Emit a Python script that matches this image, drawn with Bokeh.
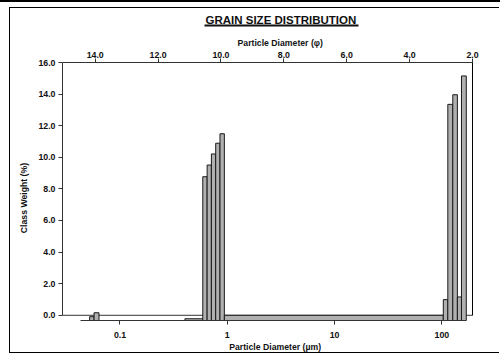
import math
from bokeh.plotting import figure
from bokeh.models import (Range1d, LinearAxis, LinearScale, FixedTicker,
                          PrintfTickFormatter, CustomJSTickFormatter, Span,
                          Title)
from bokeh.embed import file_html
from bokeh.resources import INLINE

# ---------------- data ----------------
bin_left_um = [0.0521, 0.0573, 0.403, 0.591, 0.649, 0.711, 0.780, 0.855,
               0.939, 103.2, 113.7, 126.5, 139.6, 152.4]
bin_right_um = [0.0573, 0.0637, 0.591, 0.649, 0.711, 0.780, 0.855, 0.939,
                103.2, 113.7, 126.5, 139.6, 152.4, 169.0]
class_weight = [-0.09, 0.16, -0.22, 8.77, 9.51, 10.21, 10.89, 11.49,
                0.0, 0.99, 13.35, 13.96, 1.16, 15.15]

y_ticks = [0, 2, 4, 6, 8, 10, 12, 14, 16]
phi_ticks = [14, 12, 10, 8, 6, 4, 2]
um_ticks = [0.1, 1, 10, 100]
um_tick_labels = ["0.1", "1", "10", "100"]

title_text = "GRAIN SIZE DISTRIBUTION"
top_label = "Particle Diameter (\u03c6)"
bottom_label = "Particle Diameter (\u00b5m)"
left_label = "Class Weight (%)"

# ---------------- ranges ----------------
X_START, X_END = 0.02911, 193.1
Y_START, Y_END = -0.33, 16.0
PHI_START, PHI_END = 15.04, 2.0
AXIS_MIN_UM = 0.0428

FONT = "Liberation Sans"
INK = "#111111"
AX = "#333333"

W, H = 490, 346
ML, MR, MT, MB = 50, 28, 54, 34
OX, OY = 10, 8  # page position of canvas
FL, FR = OX + ML, OX + W - MR
FT, FB = OY + MT, OY + H - MB


def xd(px):
    l0, l1 = math.log10(X_START), math.log10(X_END)
    return 10 ** (l0 + (px - FL) / (FR - FL) * (l1 - l0))


p = figure(width=W, height=H, x_axis_type="log",
           x_range=Range1d(X_START, X_END), y_range=Range1d(Y_START, Y_END),
           output_backend="svg", toolbar_location=None, title=None,
           min_border_left=ML, min_border_right=MR, min_border_top=MT,
           min_border_bottom=MB, outline_line_color=None,
           background_fill_color="white", border_fill_color="white")
p.grid.visible = False
p.extra_x_ranges = {"phi": Range1d(PHI_START, PHI_END)}
p.extra_x_scales = {"phi": LinearScale()}

p.styles = {"position": "absolute", "left": "9px", "top": "7px",
            "border-left": "1px solid #000", "border-top": "1px solid #000",
            "border-bottom": "1px solid #000",
            "box-shadow": "0 4px 0 9px #fff, 0 2px 0 9px #000"}


def style_axis(ax, standoff):
    ax.axis_line_color = AX
    ax.axis_line_width = 1
    ax.major_tick_line_color = AX
    ax.major_tick_in = 0
    ax.major_tick_out = 4
    ax.minor_tick_line_color = None
    ax.minor_tick_in = 0
    ax.minor_tick_out = 0
    ax.major_label_standoff = standoff
    ax.major_label_text_font = FONT
    ax.major_label_text_font_size = "8.8px"
    ax.major_label_text_font_style = "bold"
    ax.major_label_text_color = INK


def side_title(text, size, offset, valign, standoff):
    return Title(text=text, align="left", offset=offset,
                 vertical_align=valign, standoff=standoff,
                 text_font=FONT, text_font_size=size,
                 text_font_style="bold", text_color=INK)


# bottom log axis
bx = p.xaxis[0]
style_axis(bx, 7)
bx.ticker = FixedTicker(ticks=um_ticks)
bx.bounds = (AXIS_MIN_UM, bin_right_um[-1])
bx.formatter = CustomJSTickFormatter(
    args=dict(tv=um_ticks, tl=um_tick_labels),
    code="const i = tv.findIndex(t => Math.abs(t - tick) < 1e-9 * Math.max(1, Math.abs(t)));"
         "return i >= 0 ? tl[i] : '';")
p.add_layout(side_title(bottom_label, "8.7px", 226.7 - FL, "top", 2), "below")

# left axis
ly = p.yaxis[0]
style_axis(ly, 3)
ly.ticker = FixedTicker(ticks=y_ticks)
ly.bounds = (0, 16)
ly.formatter = PrintfTickFormatter(format="%.1f")
p.add_layout(side_title(left_label, "8.7px", FB - 232.7, "bottom", 13), "left")

# top phi axis
tx = LinearAxis(x_range_name="phi", ticker=FixedTicker(ticks=phi_ticks),
                formatter=PrintfTickFormatter(format="%.1f"))
style_axis(tx, 1)
p.add_layout(tx, "above")

# top axis title
p.add_layout(side_title(top_label, "8.7px", 235.0 - FL, "bottom", 2), "above")
# spacer
p.add_layout(Title(text=" ", align="center", standoff=0,
                   text_font=FONT, text_font_size="6.5px"), "above")
# title underline (an undecorated axis spanning the title width)
ux = LinearAxis(ticker=FixedTicker(ticks=[]), bounds=(xd(203), xd(357)))
ux.axis_line_color = INK
ux.axis_line_width = 2
ux.major_tick_line_color = None
ux.minor_tick_line_color = None
ux.major_tick_out = 0
ux.minor_tick_out = 0
ux.major_label_text_font_size = "0px"
p.add_layout(ux, "above")
# main title
p.add_layout(side_title(title_text, "11.5px", 203.0 - FL, "bottom", 0), "above")

# right frame line
ry = LinearAxis(ticker=FixedTicker(ticks=[]), bounds=(0, 16))
ry.axis_line_color = "#000000"
ry.major_tick_line_color = None
ry.minor_tick_line_color = None
ry.major_label_text_font_size = "0px"
p.add_layout(ry, "right")

# zero line
p.add_layout(Span(location=0, dimension="width", line_color=AX,
                  line_width=1, level="underlay"))

# bars
p.quad(left=bin_left_um, right=bin_right_um, top=class_weight,
       bottom=Y_START, fill_color="#b0b0b0", line_color="#1a1a1a",
       line_width=1)

open("out.html", "w").write(file_html(p, INLINE))
